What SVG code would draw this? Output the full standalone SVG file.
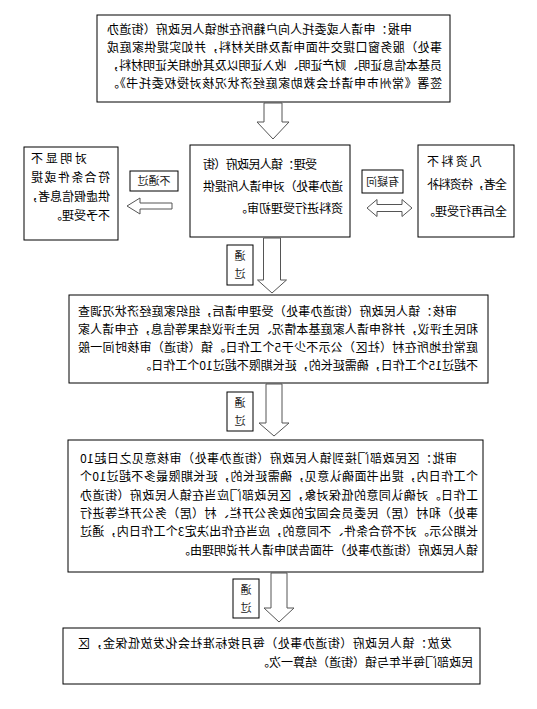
<svg xmlns="http://www.w3.org/2000/svg" width="537" height="709" viewBox="0 0 537 709">
<style>
.box{fill:#fff;stroke:#000;stroke-width:1}
.lab{fill:#fff;stroke:#000;stroke-width:1}
.arr{fill:#fff;stroke:#555;stroke-width:1}
text{font-family:"Noto Sans CJK SC","Noto Sans CJK JP",sans-serif;font-size:12px;fill:#000}
.sm{font-size:11px;fill:#222;text-anchor:middle}
</style>
<rect width="537" height="709" fill="#fff"/>
<g transform="matrix(-1 0 0 1 537 0)">
<g id="apply">
<rect class="box" x="87" y="15" width="353" height="87"/>
<text x="125" y="33.5" textLength="305" lengthAdjust="spacing">申报：申请人或委托人向户籍所在地镇人民政府（街道办</text>
<text x="95" y="51.5" textLength="335" lengthAdjust="spacing">事处）服务窗口提交书面申请及相关材料，并如实提供家庭成</text>
<text x="95" y="69.5" textLength="335" lengthAdjust="spacing">员基本信息证明、财产证明、收入证明以及其他相关证明材料，</text>
<text x="95" y="87.5" textLength="335" lengthAdjust="spacing">签署《常州市申请社会救助家庭经济状况核对授权委托书》。</text>
</g>
<g id="accept">
<rect class="box" x="187" y="145" width="160" height="92"/>
<text x="220" y="168.5" textLength="114" lengthAdjust="spacing">受理：镇人民政府（街</text>
<text x="194" y="190.5" textLength="140" lengthAdjust="spacing">道办事处）对申请人所提供</text>
<text x="194" y="212.5">资料进行受理初审。</text>
</g>
<g id="reject">
<rect class="box" x="419" y="147" width="94" height="93"/>
<text x="450" y="162.5" textLength="56" lengthAdjust="spacing">对明显不</text>
<text x="427" y="181.5" textLength="79" lengthAdjust="spacing">符合条件或提</text>
<text x="427" y="200.5" textLength="84" lengthAdjust="spacing">供虚假信息者，</text>
<text x="427" y="219.5">不予受理。</text>
</g>
<g id="supplement">
<rect class="box" x="23" y="145" width="96" height="92"/>
<text x="55" y="165.5" textLength="55" lengthAdjust="spacing">凡资料不</text>
<text x="30" y="188.5" textLength="80" lengthAdjust="spacing">全者，待资料补</text>
<text x="30" y="215.5">全后再行受理。</text>
</g>
<g id="review">
<rect class="box" x="49" y="295" width="419" height="88"/>
<text x="80" y="315.5" textLength="379" lengthAdjust="spacing">审核：镇人民政府（街道办事处）受理申请后，组织家庭经济状况调查</text>
<text x="59" y="333.5" textLength="400" lengthAdjust="spacing">和民主评议，并将申请人家庭基本情况、民主评议结果等信息，在申请人家</text>
<text x="59" y="351.5" textLength="400" lengthAdjust="spacing">庭常住地所在村（社区）公示不少于5个工作日。镇（街道）审核时间一般</text>
<text x="59" y="369.5">不超过15个工作日，确需延长的，延长期限不超过10个工作日。</text>
</g>
<g id="approve">
<rect class="box" x="54" y="440" width="415" height="132"/>
<text x="80" y="462.5" textLength="377" lengthAdjust="spacing">审批：区民政部门接到镇人民政府（街道办事处）审核意见之日起10</text>
<text x="59" y="481" textLength="398" lengthAdjust="spacing">个工作日内，提出书面确认意见，确需延长的，延长期限最多不超过10个</text>
<text x="59" y="499.5" textLength="398" lengthAdjust="spacing">工作日。对确认同意的低保对象，区民政部门应当在镇人民政府（街道办</text>
<text x="59" y="517.5" textLength="398" lengthAdjust="spacing">事处）和村（居）民委员会固定的政务公开栏、村（居）务公开栏等进行</text>
<text x="59" y="536" textLength="398" lengthAdjust="spacing">长期公示。对不符合条件、不同意的，应当在作出决定3个工作日内，通过</text>
<text x="59" y="554.5">镇人民政府（街道办事处）书面告知申请人并说明理由。</text>
</g>
<g id="issue">
<rect class="box" x="57" y="628" width="417" height="56"/>
<text x="85" y="647.5" textLength="374" lengthAdjust="spacing">发放：镇人民政府（街道办事处）每月按标准社会化发放低保金，区</text>
<text x="64" y="666.5">民政部门每半年与镇（街道）结算一次。</text>
</g>
<g id="label-fail">
<rect class="lab" x="359" y="171" width="48" height="20"/>
<text class="sm" x="383" y="185">不通过</text>
</g>
<g id="label-query">
<rect class="lab" x="134" y="170" width="41" height="23"/>
<text class="sm" x="154.5" y="185.5">有疑问</text>
</g>
<g id="label-pass1">
<rect class="lab" x="284" y="245" width="26" height="40"/>
<text class="sm" x="297" y="260">通</text>
<text class="sm" x="297" y="278">过</text>
</g>
<g id="label-pass2">
<rect class="lab" x="284" y="392" width="26" height="39"/>
<text class="sm" x="297" y="407">通</text>
<text class="sm" x="297" y="425">过</text>
</g>
<g id="label-pass3">
<rect class="lab" x="278" y="579" width="26" height="39"/>
<text class="sm" x="291" y="594">通</text>
<text class="sm" x="291" y="612">过</text>
</g>
<g id="connectors">
<polygon class="arr" points="255,103 273,103 273,122 280,122 264,139 248,122 255,122"/>
<polygon class="arr" points="256.5,238 273.5,238 273.5,280 279.5,280 265,293 250.5,280 256.5,280"/>
<polygon class="arr" points="255,384 271,384 271,423 278,423 263,436 248,423 255,423"/>
<polygon class="arr" points="250,573 266,573 266,608 273,608 258,622 243,608 250,608"/>
<polygon class="arr" points="365,203 397,203 397,198 410,206 397,214 397,209 365,209"/>
<polygon class="arr" points="125,208 135,199.5 135,204.5 160,204.5 160,199.5 170,208 160,216.5 160,211.5 135,211.5 135,216.5"/>
</g>
</g>
</svg>
